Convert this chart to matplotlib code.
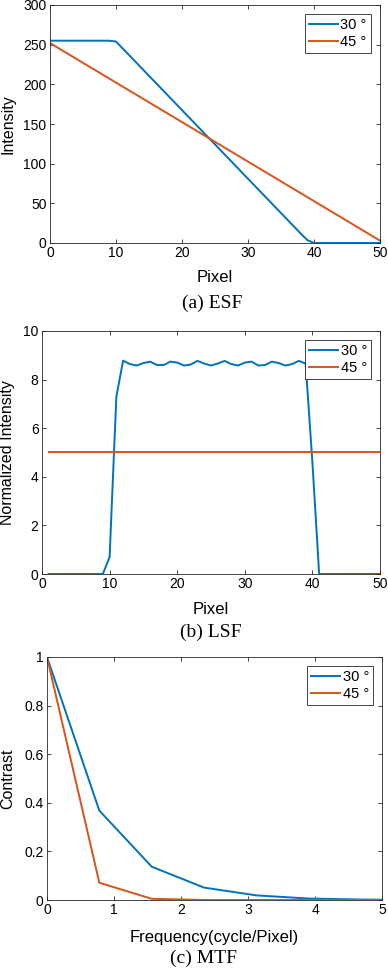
import numpy as np
import matplotlib
matplotlib.use('Agg')
import matplotlib.pyplot as plt

# Dados
esf_px = list(range(0, 51))
esf_30 = [255, 255, 255, 255, 255, 255, 255, 255, 255, 255,
          254, 245.35, 236.7, 228.05, 219.4, 210.75, 202.1, 193.45, 184.8, 176.15,
          167.5, 158.85, 150.2, 141.55, 132.9, 124.25, 115.6, 106.95, 98.3, 89.65,
          81.0, 72.35, 63.7, 55.05, 46.4, 37.75, 29.1, 20.45, 11.8, 3.6,
          0, 0, 0, 0, 0, 0, 0, 0, 0, 0, 0]
esf45_px = [0, 5, 10, 15, 20, 25, 30, 35, 40, 45, 50]
esf_45 = [252, 227.1, 202.2, 177.3, 152.4, 127.5, 102.6, 77.7, 52.8, 27.9, 3]

lsf_px = list(range(1, 51))
lsf_30 = [0, 0, 0, 0, 0, 0, 0, 0, 0, 0.7,
          7.3, 8.78, 8.64, 8.58, 8.68, 8.74, 8.6, 8.6, 8.74, 8.7,
          8.58, 8.62, 8.77, 8.66, 8.58, 8.66, 8.77, 8.64, 8.58, 8.7,
          8.74, 8.58, 8.6, 8.74, 8.68, 8.58, 8.64, 8.77, 8.66, 4.6,
          0, 0, 0, 0, 0, 0, 0, 0, 0, 0]
lsf45_px = [1, 50]
lsf_45 = [5, 5]

mtf_freq = [0, 0.781, 1.563, 2.344, 3.125, 3.906, 4.688, 5.469]
mtf_30 = [1, 0.368, 0.137, 0.051, 0.019, 0.006, 0.002, 0.0]
mtf_45 = [1, 0.071, 0.005, 0.0, 0.0, 0.0, 0.0, 0.0]

legendas = ['30 °', '45 °']
azul = '#0072BD'
laranja = '#D95319'

plt.rcParams['font.family'] = ['Liberation Sans', 'DejaVu Sans']
plt.rcParams['font.size'] = 10

W, H = 388, 968
fig = plt.figure(figsize=(W / 100, H / 100), dpi=100)

def eixo(esq, topo, dir, base):
    # posição em pixels da figura
    return fig.add_axes([esq / W, 1 - base / H, (dir - esq) / W, (base - topo) / H])

def estilo(ax, xlab, ylab, xly):
    ax.tick_params(direction='in', top=True, right=True, length=3,
                   width=0.6, color='#262626', labelsize=10, pad=2.5)
    for s in ax.spines.values():
        s.set_color('#262626')
        s.set_linewidth(0.6)
    ax.set_xlabel(xlab, fontsize=12, va='center')
    ax.set_ylabel(ylab, fontsize=11.5, va='center')
    ax.xaxis.set_label_coords(0.5, xly)
    # rótulo y centrado em x = 8 px da figura
    pos = ax.get_position()
    ax.yaxis.set_label_coords((8 / W - pos.x0) / pos.width, 0.5)
    leg = ax.legend(legendas, loc='upper right', fontsize=10.5,
                    fancybox=False, edgecolor='#262626', framealpha=1,
                    handlelength=2.0, handletextpad=0.15, borderpad=0.3,
                    labelspacing=0.2, borderaxespad=0.6)
    leg.get_frame().set_linewidth(0.6)

def legenda(x, y, txt):
    fig.text(x / W, 1 - y / H, txt, ha='center', va='center',
             family='Liberation Serif', fontsize=14)

# (a) ESF
ax1 = eixo(50, 5, 380, 243)
ax1.plot(esf_px, esf_30, color=azul, lw=1.4)
ax1.plot(esf45_px, esf_45, color=laranja, lw=1.4)
ax1.set_xlim(0, 50)
ax1.set_ylim(0, 300)
ax1.set_xticks([0, 10, 20, 30, 40, 50])
ax1.set_yticks([0, 50, 100, 150, 200, 250, 300])
estilo(ax1, 'Pixel', 'Intensity', -0.143)
legenda(212, 303, '(a) ESF')

# (b) LSF
ax2 = eixo(42, 331, 380, 574)
ax2.plot(lsf_px, lsf_30, color=azul, lw=1.4)
ax2.plot(lsf45_px, lsf_45, color=laranja, lw=1.4)
ax2.set_xlim(0, 50)
ax2.set_ylim(0, 10)
ax2.set_xticks([0, 10, 20, 30, 40, 50])
ax2.set_yticks([0, 2, 4, 6, 8, 10])
estilo(ax2, 'Pixel', 'Normalized Intensity', -0.148)
legenda(211, 632, '(b) LSF')

# (c) MTF
ax3 = eixo(47, 657, 382, 900)
ax3.plot(mtf_freq, mtf_30, color=azul, lw=1.4)
ax3.plot(mtf_freq, mtf_45, color=laranja, lw=1.4)
ax3.set_xlim(0, 5)
ax3.set_ylim(0, 1)
ax3.set_xticks([0, 1, 2, 3, 4, 5])
ax3.set_yticks([0, 0.2, 0.4, 0.6, 0.8, 1])
ax3.set_yticklabels(['0', '0.2', '0.4', '0.6', '0.8', '1'])
estilo(ax3, 'Frequency(cycle/Pixel)', 'Contrast', -0.156)
legenda(203, 958, '(c) MTF')

fig.savefig('out.png', dpi=100)
